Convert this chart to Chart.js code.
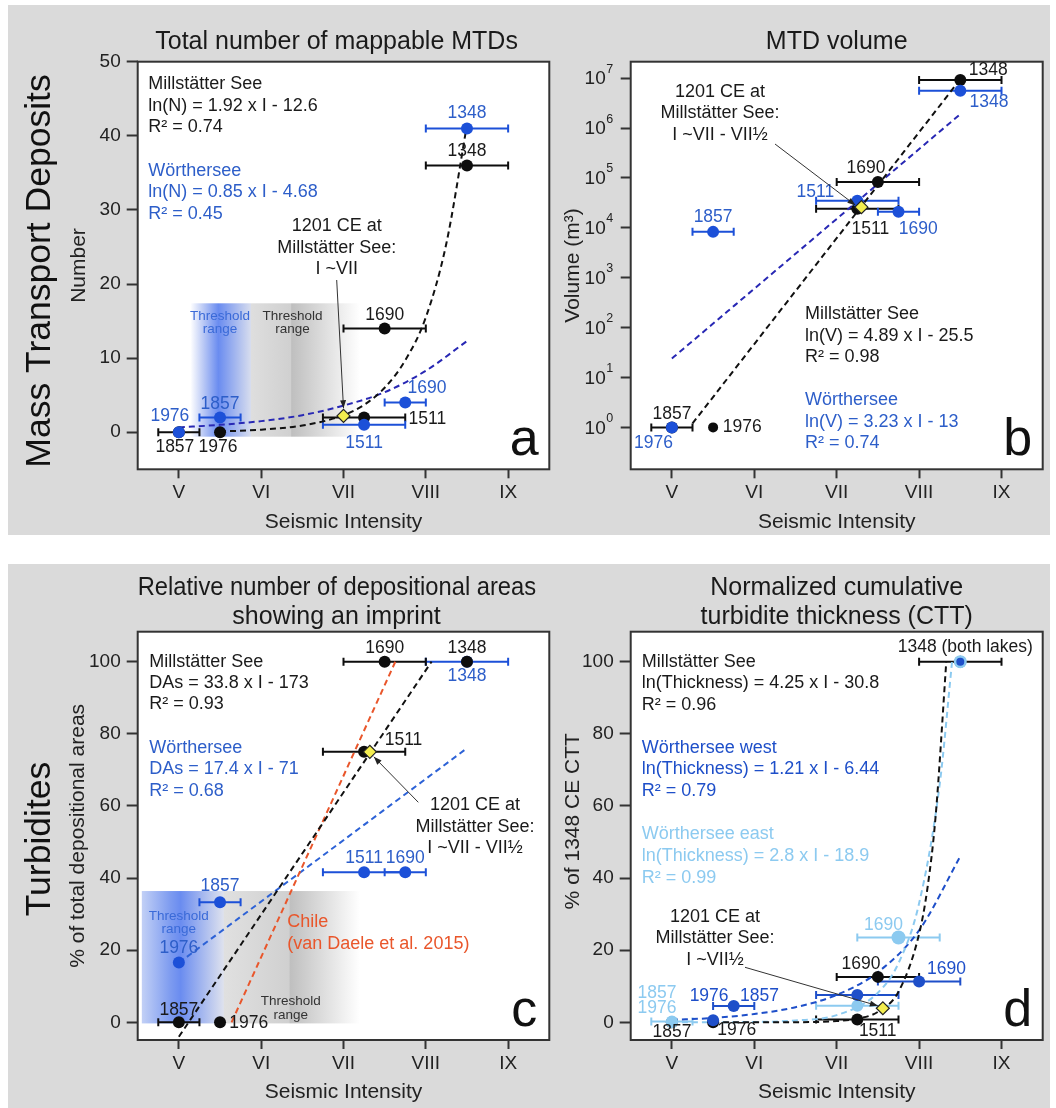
<!DOCTYPE html>
<html>
<head>
<meta charset="utf-8">
<title>MTDs and turbidites vs seismic intensity</title>
<script src="https://cdn.jsdelivr.net/npm/chart.js@4.4.1/dist/chart.umd.min.js"></script>
<style>
  html, body { margin: 0; padding: 0; background: #fff; }
  body { position: relative; width: 1056px; height: 1108px; overflow: hidden; }
  .bg { position: absolute; background: #dadada; }
  canvas { position: absolute; }
</style>
</head>
<body>
<div class="bg" style="left:8px;top:5px;width:1042px;height:530px"></div>
<div class="bg" style="left:8px;top:564px;width:1042px;height:544px"></div>
<canvas id="chartA" width="560" height="530" style="left:0;top:5px"></canvas>
<canvas id="chartB" width="496" height="530" style="left:560px;top:5px"></canvas>
<canvas id="chartC" width="560" height="544" style="left:0;top:564px"></canvas>
<canvas id="chartD" width="496" height="544" style="left:560px;top:564px"></canvas>
<script>
const FONT = '"Liberation Sans", Arial, Helvetica, sans-serif';
Chart.defaults.font.family = FONT;
Chart.defaults.color = '#1a1a1a';

// shared
const years = ['1348', '1511', '1690', '1857', '1976'];
const romanAt = [5, 6, 7, 8, 9];
const roman = ['V', 'VI', 'VII', 'VIII', 'IX'];

// a: total number of mappable MTDs
const aMillX = [8.5, 7.25, 7.5, 5, 5.5];
const aMillY = [36, 2, 14, 0, 0];
const aMillE = [0.5, 0.5, 0.5, 0.25, 0];
const aWorX = [8.5, 7.25, 7.75, 5.5, 5];
const aWorY = [41, 1, 4, 2, 0];
const aWorE = [0.5, 0.5, 0.25, 0.25, 0];
const a1201 = [7.0, 2.2];
const aMillFitX = [5.5, 6, 6.5, 7, 7.25, 7.5, 7.75, 8, 8.25, 8.5];
const aMillFitY = [0.1, 0.35, 0.9, 2.3, 3.7, 6, 9.7, 15.5, 25.5, 41.5];
const aWorFitX = [5, 5.5, 6, 6.5, 7, 7.5, 8, 8.5];
const aWorFitY = [0.65, 1, 1.5, 2.3, 3.6, 5.4, 8.3, 12.3];
const aYTicks = [0, 10, 20, 30, 40, 50];
const aBandX = [5.14, 5.3, 5.48, 5.87, 5.88, 6.36, 6.37, 7.2];
const aBandY = [-0.6, 17.4];

// b: MTD volume (m3)
const bMillX = [8.5, 7.25, 7.5, 5, 5.5];
const bMillY = [9.2e6, 2.4e4, 8.3e4, 1, 1];
const bMillE = [0.5, 0.5, 0.5, 0.25, 0];
const bWorX = [8.5, 7.25, 7.75, 5.5, 5];
const bWorY = [5.6e6, 3.5e4, 2.1e4, 8.3e3, 1];
const bWorE = [0.5, 0.5, 0.25, 0.25, 0];
const b1201 = [7.3, 2.6e4];
const bMillFitX = [5.25, 8.5];
const bMillFitY = [1.2, 9.5e6];
const bWorFitX = [5, 8.5];
const bWorFitY = [24, 1.9e6];
const bYExp = [0, 1, 2, 3, 4, 5, 6, 7];

// c: % of depositional areas with an imprint
const cMillX = [8.5, 7.25, 7.5, 5, 5.5];
const cMillY = [100, 75, 100, 0, 0];
const cMillE = [0, 0.5, 0.5, 0.25, 0];
const cWorX = [8.5, 7.25, 7.75, 5.5, 5];
const cWorY = [100, 41.6, 41.6, 33.3, 16.6];
const cWorE = [0.5, 0.5, 0.25, 0.25, 0];
const c1201 = [7.32, 75];
const cMillFitX = [5, 8.07];
const cMillFitY = [-4, 100];
const cWorFitX = [5, 8.5];
const cWorFitY = [16.5, 76];
const cChileX = [5.64, 7.63];
const cChileY = [0, 100];
const cYTicks = [0, 20, 40, 60, 80, 100];
const cBandX = [4.55, 4.9, 5.02, 5.54, 5.55, 6.34, 6.35, 7.2];
const cBandY = [-0.3, 36.4];

// d: normalized cumulative turbidite thickness
const dMillX = [8.5, 7.25, 7.5, 5, 5.5];
const dMillY = [100, 0.8, 12.6, 0, 0];
const dMillE = [0.5, 0.5, 0.5, 0, 0];
const dWestX = [8.5, 7.25, 8.0, 5.75, 5.5];
const dWestY = [100, 7.6, 11.3, 4.5, 0.6];
const dWestE = [0, 0.5, 0.5, 0.25, 0];
const dEastX = [8.5, 7.25, 7.75, 5, 5];
const dEastY = [100, 4.6, 23.5, 0.2, 0];
const dEastE = [0, 0.5, 0.5, 0.25, 0];
const d1201 = [7.56, 3.9];
const dMillFitX = [5.5, 6.5, 7, 7.25, 7.5, 7.75, 8, 8.1, 8.2, 8.33];
const dMillFitY = [0, 0.04, 0.35, 1, 2.9, 8.5, 24.5, 37, 57, 100];
const dWestFitX = [5, 5.5, 6, 6.5, 7, 7.5, 8, 8.5];
const dWestFitY = [0.7, 1.2, 2.3, 4.2, 7.6, 13.9, 25.5, 46];
const dEastFitX = [5, 6, 6.5, 7, 7.5, 7.75, 8, 8.25, 8.4];
const dEastFitY = [0, 0.1, 0.5, 2, 8.2, 16.4, 33, 66, 100];

// colours
const INK = '#1a1a1a', AX = '#333', DOT = '#0d0d0d';
const BLUE = '#1c50d8', BLUE_T = '#2d5ec9', BLUE_FIT = '#2828b4', BLUE_C = '#2d62d6';
const WEST = '#1e4fc9', EAST = '#8ccaf0', CHILE = '#e9562b';
const aBandCol = ['#ffffff', '#b9c8f5', '#6a8cf0', '#d6dcee', '#dedede', '#d0d0d0', '#bfbfbf', '#ffffff'];
const cBandCol = ['#c2d0f6', '#7d9bf0', '#6a8cf0', '#dde1ee', '#e0e0e0', '#d0d0d0', '#bfbfbf', '#ffffff'];

const pts = (xs, ys) => xs.map((x, i) => ({x, y: ys[i]}));
function dots(xs, ys, color, r) {
  return {data: pts(xs, ys), showLine: false, pointRadius: r, pointBackgroundColor: color, pointBorderWidth: 0};
}
function fit(xs, ys, color) {
  return {data: pts(xs, ys), showLine: true, pointRadius: 0, borderColor: color, borderWidth: 2,
    borderDash: [6, 4], cubicInterpolationMode: 'monotone', fill: false};
}
function quake(p) {
  return {data: [{x: p[0], y: p[1]}], showLine: false, pointStyle: 'rectRot', pointRadius: 6.5,
    pointBackgroundColor: '#f3ed4f', pointBorderColor: '#222', pointBorderWidth: 1.2};
}

function xAxis() {
  return {
    type: 'linear', min: 4.5, max: 9.5,
    afterBuildTicks: s => { s.ticks = romanAt.map(v => ({value: v})); },
    afterFit: s => { s.height = 65.3; },
    ticks: {callback: (v, i) => roman[i], font: {size: 19}, color: '#222', padding: 3, maxRotation: 0, autoSkip: false},
    grid: {drawOnChartArea: false, tickLength: 9, tickWidth: 2, tickColor: AX},
    border: {display: false},
    title: {display: true, text: 'Seismic Intensity', font: {size: 21}, color: '#222', padding: 0}
  };
}
function yAxis(min, max, ticks, title, size, width) {
  return {
    type: 'linear', min, max,
    afterBuildTicks: s => { s.ticks = ticks.map(v => ({value: v})); },
    afterFit: s => { s.width = width; },
    ticks: {font: {size: 19}, color: '#222', padding: 6},
    grid: {drawOnChartArea: false, tickLength: 11, tickWidth: 2, tickColor: AX},
    border: {display: false},
    title: {display: true, text: title, font: {size: size}, color: '#222', padding: 0}
  };
}
function logTicks(lo, hi) {
  const out = [];
  for (let e = Math.floor(Math.log10(lo)); e <= Math.ceil(Math.log10(hi)); e++)
    for (let m = 1; m <= 9; m++) { const v = m * Math.pow(10, e); if (v >= lo && v <= hi) out.push(v); }
  return out;
}
const isPow10 = v => Math.abs(Math.log10(v) - Math.round(Math.log10(v))) < 1e-9;

function options(o) {
  return {
    responsive: false, animation: false, events: [],
    layout: {padding: o.pad, autoPadding: false},
    plugins: {
      legend: {display: false}, tooltip: {enabled: false},
      title: {display: true, text: o.title, fullSize: false, color: INK,
        font: {size: 25, weight: 'normal', lineHeight: o.lh}, padding: o.titlePad}
    },
    scales: {x: xAxis(), y: o.y}
  };
}

// decorations: error bars, shaded ranges, texts, arrows
function decor(d) {
  return {
    id: 'decor',
    beforeDraw(chart) {
      const {ctx, chartArea: a} = chart;
      ctx.save();
      ctx.fillStyle = '#fff';
      ctx.fillRect(a.left, a.top, a.right - a.left, a.bottom - a.top);
      ctx.restore();
    },
    beforeDatasetsDraw(chart) {
      const {ctx, chartArea: a, scales: {x, y}} = chart;
      ctx.save();
      (d.bands || []).forEach(b => {
        const x0 = x.getPixelForValue(b.xs[0]), x1 = x.getPixelForValue(b.xs[b.xs.length - 1]);
        const yt = y.getPixelForValue(b.ys[1]), yb = y.getPixelForValue(b.ys[0]);
        const g = ctx.createLinearGradient(x0, 0, x1, 0);
        b.xs.forEach((v, i) => g.addColorStop((x.getPixelForValue(v) - x0) / (x1 - x0), b.colors[i]));
        const l = Math.max(x0, a.left + 1);
        ctx.fillStyle = g;
        ctx.fillRect(l, yt, x1 - l, yb - yt);
      });
      (d.bandText || []).forEach(t => {
        ctx.font = '13.5px ' + FONT; ctx.fillStyle = t.color;
        ctx.textAlign = 'center'; ctx.textBaseline = 'middle';
        const px = x.getPixelForValue(t.x), py = y.getPixelForValue(t.y);
        ['Threshold', 'range'].forEach((s, i) => ctx.fillText(s, px, py + i * 13.3));
      });
      ctx.lineWidth = 2;
      d.errors.forEach(s => {
        ctx.strokeStyle = s.color;
        s.x.forEach((xv, i) => {
          if (!s.e[i]) return;
          const py = y.getPixelForValue(s.y[i]);
          const pl = x.getPixelForValue(xv - s.e[i]), pr = x.getPixelForValue(xv + s.e[i]);
          ctx.beginPath();
          ctx.moveTo(pl, py); ctx.lineTo(pr, py);
          ctx.moveTo(pl, py - 4); ctx.lineTo(pl, py + 4);
          ctx.moveTo(pr, py - 4); ctx.lineTo(pr, py + 4);
          ctx.stroke();
        });
      });
      ctx.restore();
    },
    afterDatasetsDraw(chart) {
      const {ctx, chartArea: a, scales: {x, y}} = chart;
      ctx.save();
      ctx.strokeStyle = AX; ctx.lineWidth = 2;
      ctx.strokeRect(a.left, a.top, a.right - a.left, a.bottom - a.top);
      ctx.textBaseline = 'middle';
      d.blocks.forEach(b => {
        ctx.font = '18px ' + FONT; ctx.fillStyle = b.color; ctx.textAlign = b.align || 'left';
        b.lines.forEach((s, i) => ctx.fillText(s, a.left + b.x, a.top + b.y + i * b.lh));
      });
      d.labels.forEach(l => {
        ctx.font = '17.5px ' + FONT; ctx.fillStyle = l.color;
        l.offs.forEach(([i, dx, dy, al, t]) => {
          ctx.textAlign = al || 'center';
          ctx.fillText(t || years[i], x.getPixelForValue(l.xs[i]) + dx, y.getPixelForValue(l.ys[i]) + dy);
        });
      });
      const r = d.arrow;
      const x0 = a.left + r.from[0], y0 = a.top + r.from[1];
      const x1 = x.getPixelForValue(r.to[0]) + r.off[0], y1 = y.getPixelForValue(r.to[1]) + r.off[1];
      ctx.strokeStyle = '#333'; ctx.lineWidth = 1;
      ctx.beginPath(); ctx.moveTo(x0, y0); ctx.lineTo(x1, y1); ctx.stroke();
      const ang = Math.atan2(y1 - y0, x1 - x0), c = Math.cos(ang), s = Math.sin(ang);
      ctx.fillStyle = '#222';
      ctx.beginPath();
      ctx.moveTo(x1, y1);
      ctx.lineTo(x1 - 8 * c + 3 * s, y1 - 8 * s - 3 * c);
      ctx.lineTo(x1 - 8 * c - 3 * s, y1 - 8 * s + 3 * c);
      ctx.closePath(); ctx.fill();
      ctx.font = '52px ' + FONT; ctx.fillStyle = '#111'; ctx.textAlign = 'center'; ctx.textBaseline = 'alphabetic';
      ctx.fillText(d.letter, a.right - 25, a.bottom - 14);
      if (d.logExp) {
        d.logExp.forEach(e => {
          const py = y.getPixelForValue(Math.pow(10, e));
          ctx.fillStyle = '#222'; ctx.textBaseline = 'middle';
          ctx.font = '19px ' + FONT; ctx.textAlign = 'right';
          ctx.fillText('10', a.left - 25, py + 1);
          ctx.font = '12.5px ' + FONT; ctx.textAlign = 'left';
          ctx.fillText(String(e), a.left - 24.5, py - 9);
        });
      }
      if (d.row) {
        ctx.translate(d.row.x, d.row.y);
        ctx.rotate(-Math.PI / 2);
        ctx.font = '35.5px ' + FONT; ctx.fillStyle = '#111'; ctx.textAlign = 'center'; ctx.textBaseline = 'middle';
        ctx.fillText(d.row.text, 0, 0);
      }
      ctx.restore();
    }
  };
}

// ---- a ----
new Chart(document.getElementById('chartA'), {
  type: 'scatter',
  data: {datasets: [
    quake(a1201),
    dots(aWorX, aWorY, BLUE, 6),
    dots(aMillX, aMillY, DOT, 6),
    fit(aMillFitX, aMillFitY, '#111'),
    fit(aWorFitX, aWorFitY, BLUE_FIT)
  ]},
  options: options({
    pad: {left: 66.4, right: 10.7, top: 0, bottom: 0.4},
    title: 'Total number of mappable MTDs\u00a0\u00a0', lh: 1.2, titlePad: {top: 21.7, bottom: 5},
    y: yAxis(-5, 50, aYTicks, 'Number', 21, 71.3)
  }),
  plugins: [decor({
    bands: [{xs: aBandX, ys: aBandY, colors: aBandCol}],
    bandText: [{x: 5.5, y: 15.7, color: '#3a6ad8'}, {x: 6.38, y: 15.7, color: '#333'}],
    errors: [{x: aMillX, y: aMillY, e: aMillE, color: DOT}, {x: aWorX, y: aWorY, e: aWorE, color: BLUE}],
    labels: [
      {xs: aMillX, ys: aMillY, color: INK, offs: [[0, 0, -14], [1, 44.5, 1.5, 'left'], [2, 0, -13], [3, -4, 15.4], [4, -2, 15.4]]},
      {xs: aWorX, ys: aWorY, color: BLUE_T, offs: [[0, 0, -15], [1, 0, 18.4], [2, 21.7, -14.4], [3, 0, -13.2], [4, -9, -15.6]]}
    ],
    blocks: [
      {x: 10.6, y: 22.3, lh: 21.7, color: INK, lines: ['Millstätter See', 'ln(N) = 1.92 x I - 12.6', 'R² = 0.74']},
      {x: 10.6, y: 109, lh: 21.7, color: BLUE_T, lines: ['Wörthersee', 'ln(N) = 0.85 x I - 4.68', 'R² = 0.45']},
      {x: 199, y: 164.3, lh: 21.7, color: INK, align: 'center', lines: ['1201 CE at', 'Millstätter See:', 'I ~VII']}
    ],
    arrow: {from: [199, 218.3], to: a1201, off: [0, -7.7]},
    letter: 'a',
    row: {text: 'Mass Transport Deposits', x: 40, y: 266}
  })]
});

// ---- b ----
const bMin = Math.pow(10, -0.84), bMax = Math.pow(10, 7.33);
new Chart(document.getElementById('chartB'), {
  type: 'scatter',
  data: {datasets: [
    quake(b1201),
    dots(bWorX, bWorY, BLUE, 6),
    dots(bMillX, bMillY, DOT, [6, 6, 6, 6, 5]),
    fit(bMillFitX, bMillFitY, '#111'),
    fit(bWorFitX, bWorFitY, BLUE_FIT)
  ]},
  options: options({
    pad: {left: 0.4, right: 13.3, top: 0, bottom: 0.4},
    title: 'MTD volume', lh: 1.2, titlePad: {top: 21.7, bottom: 5},
    y: {
      type: 'logarithmic', min: bMin, max: bMax,
      afterBuildTicks: s => { s.ticks = logTicks(bMin, bMax).map(v => ({value: v, major: isPow10(v)})); },
      afterFit: s => { s.width = 70.3; },
      ticks: {callback: () => '', font: {size: 19}, padding: 6},
      grid: {drawOnChartArea: false, tickLength: 10, tickColor: AX, tickWidth: c => (c.tick && isPow10(c.tick.value)) ? 2 : 1.2},
      border: {display: false},
      title: {display: true, text: 'Volume (m³)', font: {size: 21}, color: '#222', padding: 0}
    }
  }),
  plugins: [decor({
    errors: [{x: bMillX, y: bMillY, e: bMillE, color: DOT}, {x: bWorX, y: bWorY, e: bWorE, color: BLUE}],
    labels: [
      {xs: bMillX, ys: bMillY, color: INK, offs: [[0, 28, -9.4], [1, 13, 20], [2, -12, -14.3], [3, 0, -13], [4, 9.7, 0, 'left']]},
      {xs: bWorX, ys: bWorY, color: BLUE_T, offs: [[0, 28.6, 11.5], [1, -42, -8.4], [2, 19.7, 17.2], [3, 0, -14.6], [4, -18.5, 16]]}
    ],
    blocks: [
      {x: 174.3, y: 252.6, lh: 21.4, color: INK, lines: ['Millstätter See', 'ln(V) = 4.89 x I - 25.5', 'R² = 0.98']},
      {x: 174.3, y: 338.3, lh: 21.6, color: BLUE_T, lines: ['Wörthersee', 'ln(V) = 3.23 x I - 13', 'R² = 0.74']},
      {x: 89.3, y: 30, lh: 21.7, color: INK, align: 'center', lines: ['1201 CE at', 'Millstätter See:', 'I ~VII - VII½']}
    ],
    arrow: {from: [144.3, 82.3], to: b1201, off: [-6, -2]},
    letter: 'b',
    logExp: bYExp
  })]
});

// ---- c ----
new Chart(document.getElementById('chartC'), {
  type: 'scatter',
  data: {datasets: [
    quake(c1201),
    dots(cMillX, cMillY, DOT, 6),
    dots(cWorX, cWorY, BLUE, 6),
    fit(cMillFitX, cMillFitY, '#111'),
    fit(cChileX, cChileY, CHILE),
    fit(cWorFitX, cWorFitY, BLUE_C)
  ]},
  options: options({
    pad: {left: 65.4, right: 10.7, top: 0, bottom: 2.7},
    title: ['Relative number of depositional areas\u00a0\u00a0', 'showing an imprint\u00a0\u00a0'], lh: 1.136, titlePad: {top: 10.1, bottom: 0.8},
    y: yAxis(-4.9, 108.3, cYTicks, '% of total depositional areas', 21, 72.3)
  }),
  plugins: [decor({
    bands: [{xs: cBandX, ys: cBandY, colors: cBandCol}],
    bandText: [{x: 5.0, y: 29.5, color: '#3a6ad8'}, {x: 6.36, y: 5.7, color: '#333'}],
    errors: [{x: cWorX, y: cWorY, e: cWorE, color: BLUE}, {x: cMillX, y: cMillY, e: cMillE, color: DOT}],
    labels: [
      {xs: cMillX, ys: cMillY, color: INK, offs: [[0, 0, -13.5], [1, 39.4, -12], [2, 0, -13.5], [3, 0, -12.3], [4, 9.3, 0.4, 'left']]},
      {xs: cWorX, ys: cWorY, color: BLUE_T, offs: [[0, 0, 14.2], [1, 0, -14], [2, 0, -14], [3, 0, -15.6], [4, 0, -14.2]]}
    ],
    blocks: [
      {x: 11.6, y: 30, lh: 21.3, color: INK, lines: ['Millstätter See', 'DAs = 33.8 x I - 173', 'R² = 0.93']},
      {x: 11.6, y: 116.6, lh: 21.2, color: BLUE_T, lines: ['Wörthersee', 'DAs = 17.4 x I - 71', 'R² = 0.68']},
      {x: 149.6, y: 290.6, lh: 22, color: CHILE, lines: ['Chile', '(van Daele et al. 2015)']},
      {x: 337.3, y: 173.3, lh: 21.7, color: INK, align: 'center', lines: ['1201 CE at', 'Millstätter See:', 'I ~VII - VII½']}
    ],
    arrow: {from: [280.6, 170.6], to: c1201, off: [4, 5]},
    letter: 'c',
    row: {text: 'Turbidites', x: 40, y: 275}
  })]
});

// ---- d ----
new Chart(document.getElementById('chartD'), {
  type: 'scatter',
  data: {datasets: [
    quake(d1201),
    dots(dWestX, dWestY, WEST, [4, 6, 6, 6, 6]),
    dots(dEastX, dEastY, EAST, [6.5, 6, 7, 6, 6]),
    dots(dMillX, dMillY, DOT, 6),
    fit(dMillFitX, dMillFitY, '#111'),
    fit(dEastFitX, dEastFitY, EAST),
    fit(dWestFitX, dWestFitY, WEST)
  ]},
  options: options({
    pad: {left: 0.4, right: 13.3, top: 0, bottom: 2.7},
    title: ['Normalized cumulative', 'turbidite thickness (CTT)'], lh: 1.136, titlePad: {top: 10.1, bottom: 0.8},
    y: yAxis(-4.9, 108.3, cYTicks, '\u00a0\u00a0\u00a0\u00a0\u00a0% of 1348 CE CTT', 21, 70.3)
  }),
  plugins: [decor({
    errors: [
      {x: dMillX, y: dMillY, e: dMillE, color: DOT},
      {x: dEastX, y: dEastY, e: dEastE, color: EAST},
      {x: dWestX, y: dWestY, e: dWestE, color: WEST}
    ],
    labels: [
      {xs: dMillX, ys: dMillY, color: INK, offs: [[0, 5, -14.5, 'center', '1348 (both lakes)'], [1, 20.4, 11.3], [2, -17, -13], [3, 0, 9.4], [4, 23.7, 8]]},
      {xs: dWestX, ys: dWestY, color: WEST, offs: [[2, 27.4, -12.3], [3, 25.8, -10], [4, -4, -24]]},
      {xs: dEastX, ys: dEastY, color: EAST, offs: [[2, -15, -12.6], [3, -15, -28.3], [4, -15, -14]]}
    ],
    blocks: [
      {x: 11, y: 30, lh: 21.65, color: INK, lines: ['Millstätter See', 'ln(Thickness) = 4.25 x I - 30.8', 'R² = 0.96']},
      {x: 11, y: 116, lh: 21.65, color: WEST, lines: ['Wörthersee west', 'ln(Thickness) = 1.21 x I - 6.44', 'R² = 0.79']},
      {x: 11, y: 202.6, lh: 21.7, color: EAST, lines: ['Wörthersee east', 'ln(Thickness) = 2.8 x I - 18.9', 'R² = 0.99']},
      {x: 84.3, y: 285, lh: 21.65, color: INK, align: 'center', lines: ['1201 CE at', 'Millstätter See:', 'I ~VII½']}
    ],
    arrow: {from: [114.3, 335.6], to: d1201, off: [-5, -2.5]},
    letter: 'd'
  })]
});
</script>
</body>
</html>
